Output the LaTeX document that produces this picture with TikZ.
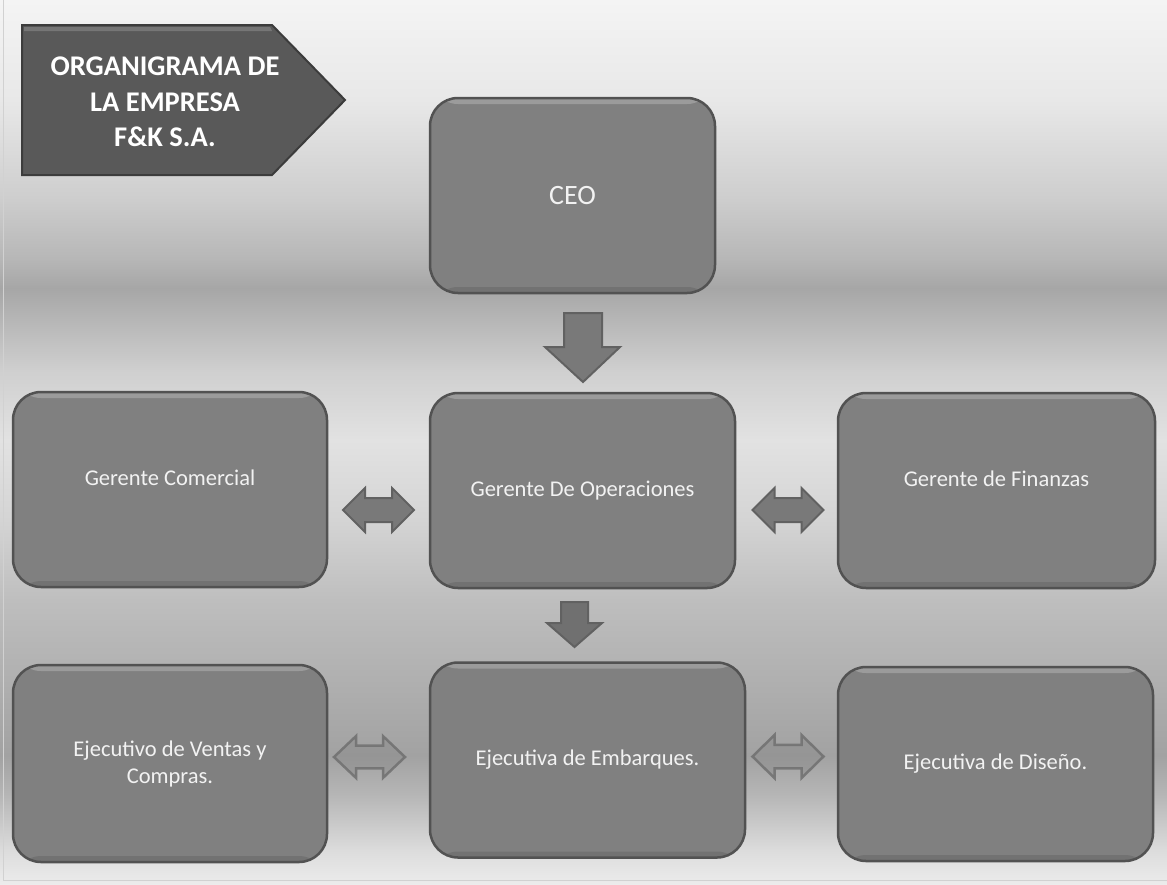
\documentclass[tikz,border=0pt]{standalone}
\usepackage{fontspec}
\setmainfont{Carlito}
\definecolor{boxfill}{RGB}{128,128,128}
\definecolor{boxline}{RGB}{82,82,82}
\definecolor{titlefill}{RGB}{89,89,89}
\definecolor{titleline}{RGB}{60,60,60}
\definecolor{labeltext}{RGB}{242,242,242}
\begin{document}
\begin{tikzpicture}[x=1pt,y=-1pt,
  orgbox/.style={draw=boxline, line width=2.5pt, fill=boxfill, rounded corners=28pt,
    text=labeltext, font=\fontsize{22.5}{27}\selectfont, align=center, inner sep=0pt,
    minimum height=195pt,
    path picture={
      \fill[white,opacity=0.22] ([yshift=-1pt]path picture bounding box.north west) rectangle ([yshift=-6pt]path picture bounding box.north east);
      \fill[black,opacity=0.10] ([yshift=6pt]path picture bounding box.south west) rectangle (path picture bounding box.south east);
    }},
  raised/.style={text depth=24pt},
  darkarrow/.style={fill=gray!95!black, draw=black!62, line width=2pt, line join=miter},
  lightarrow/.style={fill=black!45, fill opacity=0.55, draw=black!56, draw opacity=0.85, line width=2.5pt, line join=miter},
  dblarrow/.pic={\path[pic actions] (-35.5,0) -- (-13.5,-22) -- (-13.5,-12) -- (13.5,-12) -- (13.5,-22) -- (35.5,0) -- (13.5,22) -- (13.5,12) -- (-13.5,12) -- (-13.5,22) -- cycle;}
]
\useasboundingbox (0,0) rectangle (1167,884);
% background gradient bands
\foreach \ya/\yb/\ca/\cb in {0/100/244/232, 100/200/232/205, 200/260/205/182, 260/288/182/166, 288/315/166/180, 315/370/180/207, 370/440/207/226, 440/520/226/212, 520/600/212/190, 600/700/190/172, 700/755/172/162, 755/795/162/182, 795/850/182/220, 850/884/220/236}{
  \definecolor{bgA}{RGB}{\ca,\ca,\ca}
  \definecolor{bgB}{RGB}{\cb,\cb,\cb}
  \fill[top color=bgA, bottom color=bgB] (0,\ya) rectangle (1167,\yb+0.6);
}
\draw[black!18, line width=1pt] (3,0) -- (3,880) -- (1167,880);

% title banner
\path[fill=titlefill, draw=titleline, line width=2pt, line join=miter]
  (22,25) -- (272,25) -- (345,100) -- (272,175) -- (22,175) -- cycle;
\fill[white, opacity=0.18] (24,27) -- (270,27) -- (272,31) -- (24,31) -- cycle;
\node[text=white, font=\bfseries\fontsize{28.5}{35.5}\selectfont, align=center] (title) at (165,102)
  {ORGANIGRAMA DE\\LA EMPRESA\\F\&K S.A.};

% boxes
\node[orgbox, minimum width=285pt, font=\fontsize{28}{30}\selectfont] (ceo) at (572.5,195.5) {CEO};
\node[orgbox, raised, minimum width=314pt] (gc) at (170,489.5) {Gerente Comercial};
\node[orgbox, minimum width=305pt] (gop) at (582.5,490.5) {Gerente De Operaciones};
\node[orgbox, raised, minimum width=317pt] (gf) at (996.5,490.5) {Gerente de Finanzas};
\node[orgbox, minimum width=314pt, minimum height=197pt] (ev) at (170,763.5) {Ejecutivo de Ventas y\\Compras.};
\node[orgbox, minimum width=315pt] (emb) at (587.5,760) {Ejecutiva de Embarques.};
\node[orgbox, minimum width=315pt, minimum height=194pt] (ed) at (995.5,764) {Ejecutiva de Diseño.};

% down arrows
\path[darkarrow] (564,313) -- (602,313) -- (602,347) -- (620,347) -- (583,382) -- (545,347) -- (564,347) -- cycle;
\path[darkarrow, fill=gray!88!black] (561,602) -- (588,602) -- (588,623) -- (602,623) -- (574.5,647) -- (547,623) -- (561,623) -- cycle;

% double arrows
\pic[darkarrow] at (378.5,510) {dblarrow};
\pic[darkarrow] at (788,510) {dblarrow};
\pic[lightarrow, yscale=0.95] at (369.5,757) {dblarrow};
\pic[lightarrow, yscale=0.98] at (788,756.5) {dblarrow};
\end{tikzpicture}
\end{document}
